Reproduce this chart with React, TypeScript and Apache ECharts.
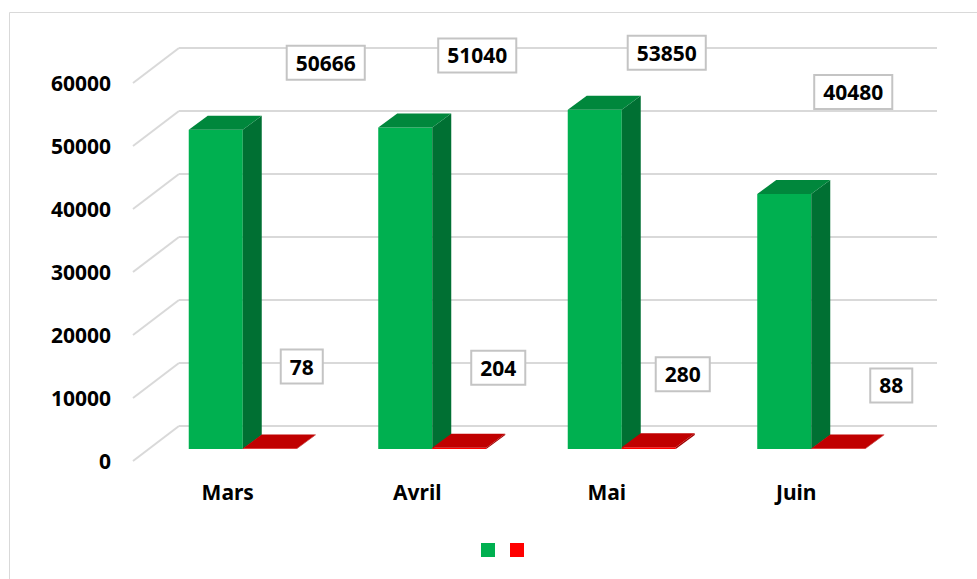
import React, { useEffect, useRef } from 'react';
import * as echarts from 'echarts';

const categories = ['Mars', 'Avril', 'Mai', 'Juin'];
const seriesNames = ['Série 1', 'Série 2'];
const greenValues = [50666, 51040, 53850, 40480];
const redValues = [78, 204, 280, 88];
const yTicks = [0, 10000, 20000, 30000, 40000, 50000, 60000];

// label box offsets from bar top-front centre (layout only)
const greenLabelOffsets = [[110, -67], [72, -72], [72, -57], [69, -102]];
const redLabelOffsets = [[32, -82], [39, -80], [34, -73], [53, -63]];

const DEPTH = [46, -35];
const BAR_SHIFT = [15, -12];
const BAR_DEPTH = [19, -14];
const BAR_FRAC = 0.285;
const FONT = '"Noto Sans", "Open Sans", sans-serif';

const GREEN = { front: '#00B050', side: '#007033', top: '#00873C' };
const RED = { front: '#FF0000', side: '#A00000', top: '#C00000' };

function makeBarRender(side: number, colors: any, offsets: number[][]) {
  return (params: any, api: any) => {
    const i = api.value(0);
    const v = api.value(1);
    const base = api.coord([i, 0]);
    const top = api.coord([i, v]);
    const band = api.size([1, 0])[0];
    const w = band * BAR_FRAC;
    const x0 = base[0] + (side === 0 ? -w : 0) + BAR_SHIFT[0];
    const x1 = x0 + w;
    const yb = base[1] + BAR_SHIFT[1];
    const yt = top[1] + BAR_SHIFT[1];
    const dx = BAR_DEPTH[0];
    const dy = BAR_DEPTH[1];
    const off = offsets[params.dataIndex];
    return {
      type: 'group',
      children: [
        { type: 'polygon', shape: { points: [[x0, yb], [x1, yb], [x1, yt], [x0, yt]] }, style: { fill: colors.front } },
        { type: 'polygon', shape: { points: [[x1, yb], [x1 + dx, yb + dy], [x1 + dx, yt + dy], [x1, yt]] }, style: { fill: colors.side } },
        { type: 'polygon', shape: { points: [[x0, yt], [x1, yt], [x1 + dx, yt + dy], [x0 + dx, yt + dy]] }, style: { fill: colors.top } },
        {
          type: 'text',
          x: (x0 + x1) / 2 + off[0],
          y: yt + off[1],
          z2: 20,
          style: {
            text: String(v),
            align: 'center',
            verticalAlign: 'middle',
            fill: '#000',
            fontSize: 21,
            fontWeight: 'bold',
            fontFamily: FONT,
            backgroundColor: '#fff',
            borderColor: '#C4C4C4',
            borderWidth: 2,
            padding: [6, 8, 5, 8],
          },
        },
      ],
    };
  };
}

function gridRender(params: any, api: any) {
  const cs = params.coordSys;
  const y = api.coord([0, api.value(1)])[1];
  const lineStyle = { stroke: '#D9D9D9', lineWidth: 2 };
  return {
    type: 'group',
    children: [
      { type: 'line', shape: { x1: cs.x, y1: y, x2: cs.x + DEPTH[0], y2: y + DEPTH[1] }, style: lineStyle },
      { type: 'line', shape: { x1: cs.x + DEPTH[0], y1: y + DEPTH[1], x2: cs.x + cs.width + DEPTH[0], y2: y + DEPTH[1] }, style: lineStyle },
    ],
  };
}

export default function App() {
  const ref = useRef<HTMLDivElement>(null);
  useEffect(() => {
    if (!ref.current) return;
    const chart = echarts.init(ref.current, null, { renderer: 'svg' });
    chart.setOption({
      animation: false,
      backgroundColor: '#fff',
      graphic: [
        { type: 'rect', shape: { x: 9.5, y: 12.5, width: 1100, height: 800 }, style: { fill: 'none', stroke: '#D9D9D9', lineWidth: 1 }, silent: true, z: -10 },
      ],
      legend: {
        data: seriesNames,
        icon: 'rect',
        itemWidth: 14,
        itemHeight: 14,
        itemGap: 15,
        left: 476,
        top: 538,
        formatter: () => '',
        selectedMode: false,
      },
      grid: { left: 133, top: 83, width: 758, height: 378 },
      xAxis: {
        type: 'category',
        data: categories,
        axisLine: { show: false },
        axisTick: { show: false },
        axisLabel: { margin: 20, fontSize: 21, fontWeight: 'bold', color: '#000', fontFamily: FONT },
      },
      yAxis: {
        type: 'value',
        min: 0,
        max: 60000,
        interval: 10000,
        axisLine: { show: false },
        axisTick: { show: false },
        splitLine: { show: false },
        axisLabel: { margin: 22, fontSize: 21, fontWeight: 'bold', color: '#000', fontFamily: FONT, formatter: (v: number) => String(v) },
      },
      series: [
        {
          type: 'custom',
          name: 'grid',
          silent: true,
          z: 1,
          renderItem: gridRender,
          data: yTicks.map((v) => [0, v]),
          encode: { x: 0, y: 1 },
        },
        {
          type: 'custom',
          name: seriesNames[0],
          z: 5,
          itemStyle: { color: GREEN.front },
          renderItem: makeBarRender(0, GREEN, greenLabelOffsets),
          data: greenValues.map((v, i) => [i, v]),
          encode: { x: 0, y: 1 },
        },
        {
          type: 'custom',
          name: seriesNames[1],
          z: 6,
          itemStyle: { color: RED.front },
          renderItem: makeBarRender(1, RED, redLabelOffsets),
          data: redValues.map((v, i) => [i, v]),
          encode: { x: 0, y: 1 },
        },
      ],
    });
    return () => chart.dispose();
  }, []);
  return <div ref={ref} style={{ position: 'fixed', left: 0, top: 0, width: 977, height: 579 }} />;
}
